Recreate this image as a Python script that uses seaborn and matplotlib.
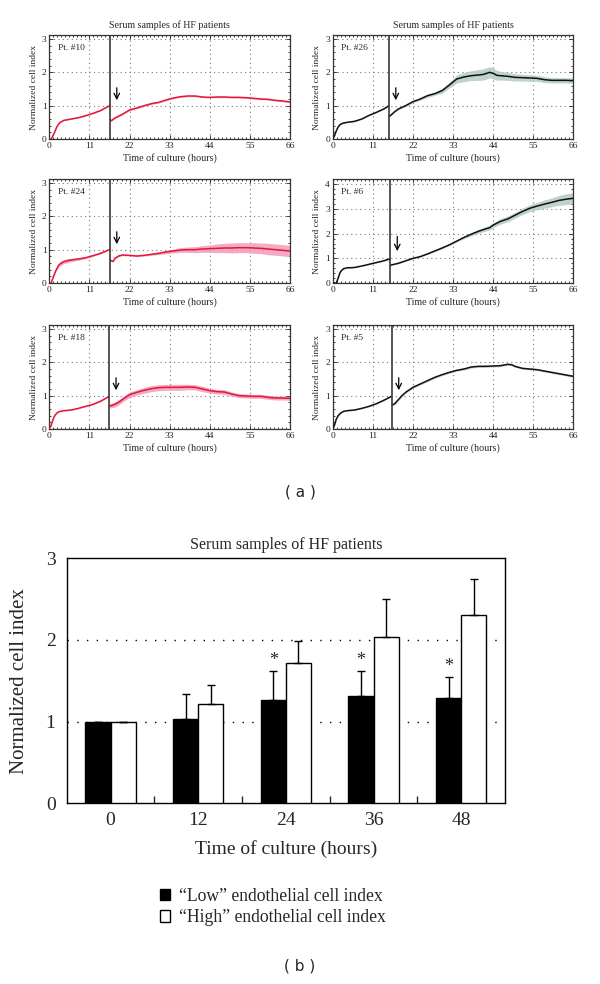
import numpy as np
import pandas as pd
import matplotlib
matplotlib.use("Agg")
import matplotlib.pyplot as plt
import seaborn as sns
from matplotlib.ticker import MultipleLocator, FixedLocator
from matplotlib.patches import Patch

# ---------------- data: panel (a) ----------------
p10_t_pre = [0, 0.5, 1, 1.5, 2, 2.5, 3, 4, 5, 6, 8, 10, 12, 14, 16.5]
p10_y_pre = [0, 0, 0.1, 0.22, 0.35, 0.44, 0.5, 0.56, 0.58, 0.6, 0.64, 0.7, 0.77, 0.85, 1.0]
p10_e_pre = [0, 0, 0.01, 0.01, 0.01, 0.01, 0.01, 0.01, 0.01, 0.01, 0.01, 0.01, 0.01, 0.01, 0.01]
p10_t_post = [16.6, 17, 18, 20, 22, 24, 26, 28, 30, 32, 34, 36, 38, 40, 42, 44, 46, 48, 50, 52, 54, 56, 58, 60, 62, 64, 66]
p10_y_post = [0.58, 0.55, 0.63, 0.74, 0.87, 0.93, 1.0, 1.06, 1.1, 1.17, 1.23, 1.27, 1.29, 1.29, 1.26, 1.25, 1.26, 1.26, 1.25, 1.25, 1.24, 1.22, 1.2, 1.19, 1.16, 1.14, 1.11]
p10_e_post = [0.02] * 27

p26_t_pre = [0, 0.5, 1, 1.5, 2, 2.5, 3, 4, 6, 8, 10, 12, 14, 15.3]
p26_y_pre = [0, 0.1, 0.25, 0.36, 0.43, 0.46, 0.48, 0.5, 0.53, 0.6, 0.71, 0.8, 0.9, 0.99]
p26_e_pre = [0, 0.01, 0.01, 0.01, 0.01, 0.01, 0.01, 0.01, 0.01, 0.01, 0.01, 0.01, 0.01, 0.01]
p26_t_post = [15.5, 16, 17, 18, 20, 22, 24, 26, 28, 30, 32, 34, 36, 38, 40, 41, 42, 43, 44, 45, 46, 48, 50, 52, 54, 56, 58, 60, 62, 64, 66]
p26_y_post = [0.68, 0.72, 0.82, 0.9, 1.0, 1.12, 1.2, 1.3, 1.36, 1.45, 1.62, 1.8, 1.86, 1.9, 1.92, 1.93, 1.96, 2.0, 1.97, 1.91, 1.9, 1.88, 1.85, 1.84, 1.83, 1.82, 1.78, 1.76, 1.76, 1.76, 1.75]
p26_e_post = [0.02, 0.02, 0.02, 0.02, 0.03, 0.03, 0.04, 0.05, 0.05, 0.07, 0.09, 0.12, 0.14, 0.15, 0.16, 0.17, 0.17, 0.17, 0.17, 0.15, 0.13, 0.12, 0.11, 0.1, 0.1, 0.09, 0.09, 0.08, 0.08, 0.08, 0.08]

p24_t_pre = [0, 0.5, 1, 1.5, 2, 2.5, 3, 4, 5, 6, 8, 10, 12, 14, 16.5]
p24_y_pre = [0, 0, 0.15, 0.3, 0.42, 0.52, 0.58, 0.64, 0.67, 0.69, 0.72, 0.76, 0.82, 0.89, 1.0]
p24_e_pre = [0, 0, 0.02, 0.03, 0.04, 0.05, 0.06, 0.06, 0.06, 0.05, 0.04, 0.03, 0.02, 0.02, 0.01]
p24_t_post = [16.7, 17, 17.5, 18, 19, 20, 22, 24, 26, 28, 30, 32, 34, 36, 38, 40, 42, 44, 46, 48, 50, 52, 54, 56, 58, 60, 62, 64, 66]
p24_y_post = [0.7, 0.66, 0.65, 0.74, 0.81, 0.84, 0.83, 0.81, 0.83, 0.86, 0.89, 0.93, 0.96, 0.99, 1.0, 1.0, 1.02, 1.03, 1.04, 1.05, 1.05, 1.06, 1.06, 1.05, 1.04, 1.02, 1.0, 0.98, 0.96]
p24_e_post = [0.02, 0.02, 0.02, 0.02, 0.02, 0.02, 0.02, 0.02, 0.02, 0.03, 0.04, 0.05, 0.06, 0.07, 0.08, 0.09, 0.1, 0.11, 0.13, 0.14, 0.15, 0.15, 0.15, 0.16, 0.16, 0.17, 0.17, 0.17, 0.17]

p6_t_pre = [0, 1, 1.5, 2, 2.5, 3, 4, 5, 6, 8, 10, 12, 14, 15.7]
p6_y_pre = [0, 0, 0.2, 0.42, 0.52, 0.58, 0.62, 0.62, 0.63, 0.69, 0.76, 0.83, 0.9, 0.98]
p6_e_pre = [0, 0, 0.01, 0.01, 0.01, 0.01, 0.01, 0.01, 0.01, 0.01, 0.01, 0.01, 0.01, 0.01]
p6_t_post = [15.9, 16, 18, 20, 22, 24, 26, 28, 30, 32, 34, 36, 38, 40, 42, 43, 44, 46, 48, 50, 52, 54, 56, 58, 60, 62, 64, 66]
p6_y_post = [0.72, 0.73, 0.8, 0.9, 1.0, 1.07, 1.18, 1.3, 1.42, 1.55, 1.7, 1.85, 1.98, 2.1, 2.2, 2.24, 2.35, 2.5, 2.6, 2.75, 2.9, 3.03, 3.12, 3.2, 3.27, 3.35, 3.4, 3.44]
p6_e_post = [0.02, 0.02, 0.02, 0.02, 0.02, 0.02, 0.02, 0.03, 0.03, 0.03, 0.04, 0.05, 0.07, 0.08, 0.09, 0.1, 0.1, 0.11, 0.12, 0.12, 0.13, 0.14, 0.15, 0.17, 0.18, 0.2, 0.22, 0.22]

p18_t_pre = [0, 0.5, 1, 1.5, 2, 2.5, 3, 4, 6, 8, 10, 12, 14, 16.3]
p18_y_pre = [0, 0.1, 0.28, 0.4, 0.47, 0.51, 0.53, 0.55, 0.57, 0.62, 0.68, 0.74, 0.83, 0.97]
p18_e_pre = [0, 0.01, 0.01, 0.01, 0.01, 0.01, 0.01, 0.01, 0.01, 0.01, 0.01, 0.01, 0.01, 0.01]
p18_t_post = [16.5, 17, 18, 19, 20, 22, 24, 26, 28, 30, 32, 34, 36, 38, 40, 42, 44, 46, 48, 50, 52, 54, 56, 58, 60, 62, 64, 66]
p18_y_post = [0.7, 0.7, 0.74, 0.8, 0.88, 1.03, 1.1, 1.16, 1.21, 1.24, 1.25, 1.25, 1.25, 1.26, 1.25, 1.2, 1.15, 1.12, 1.11, 1.05, 1.0, 0.99, 0.98, 0.98, 0.95, 0.93, 0.93, 0.92]
p18_e_post = [0.06, 0.07, 0.08, 0.08, 0.08, 0.08, 0.08, 0.09, 0.09, 0.09, 0.09, 0.09, 0.09, 0.08, 0.08, 0.08, 0.07, 0.07, 0.07, 0.06, 0.06, 0.06, 0.06, 0.06, 0.06, 0.06, 0.06, 0.06]

p5_t_pre = [0, 0.5, 1, 1.5, 2, 2.5, 3, 4, 6, 8, 10, 12, 14, 16.1]
p5_y_pre = [0, 0.12, 0.3, 0.4, 0.46, 0.5, 0.53, 0.55, 0.57, 0.62, 0.68, 0.76, 0.86, 0.98]
p5_e_pre = [0, 0.01, 0.01, 0.01, 0.01, 0.01, 0.01, 0.01, 0.01, 0.01, 0.01, 0.01, 0.01, 0.01]
p5_t_post = [16.3, 17, 18, 19, 20, 22, 24, 26, 28, 30, 32, 34, 36, 38, 40, 42, 44, 46, 48, 49, 50, 52, 54, 56, 58, 60, 62, 64, 66]
p5_y_post = [0.72, 0.76, 0.88, 1.0, 1.1, 1.25, 1.35, 1.45, 1.55, 1.63, 1.7, 1.76, 1.8, 1.86, 1.88, 1.88, 1.89, 1.9, 1.94, 1.93, 1.88, 1.82, 1.8, 1.78, 1.74, 1.7, 1.66, 1.62, 1.58]
p5_e_post = [0.03] * 29

patient_labels = ["Pt. #10", "Pt. #26", "Pt. #24", "Pt. #6", "Pt. #18", "Pt. #5"]
break_times = [16.6, 15.4, 16.6, 15.8, 16.4, 16.2]
panel_ylims = [3.12, 3.12, 3.12, 4.22, 3.12, 3.12]
arrow_from = [1.62, 1.62, 1.62, 2.0, 1.62, 1.62]
arrow_to = [1.08, 1.08, 1.08, 1.18, 1.08, 1.08]
x_ticks_a = [0, 11, 22, 33, 44, 55, 66]

# ---------------- data: panel (b) ----------------
bar_times = ["0", "12", "24", "36", "48"]
low_mean = [1.0, 1.03, 1.27, 1.32, 1.29]
low_err = [0.0, 0.31, 0.35, 0.30, 0.26]
high_mean = [1.0, 1.21, 1.72, 2.04, 2.30]
high_err = [0.0, 0.24, 0.27, 0.46, 0.45]
sig_marks = ["", "", "*", "*", "*"]
group_labels = ["\u201cLow\u201d endothelial cell index", "\u201cHigh\u201d endothelial cell index"]

# ---------------- style ----------------
sns.set_theme(style="white")
plt.rcParams["font.family"] = ["Liberation Serif", "DejaVu Serif"]

RED = "#e3173a"
RED_BAND = "#f39bb8"
BLK = "#111111"
BLK_BAND = "#b3ccc4"

W, H = 600, 984
fig = plt.figure(figsize=(W / 100, H / 100), dpi=100)


def fax(left, top, width, height):
    return fig.add_axes([left / W, 1 - (top + height) / H, width / W, height / H])


patients = [
    (p10_t_pre, p10_y_pre, p10_e_pre, p10_t_post, p10_y_post, p10_e_post, RED, RED_BAND),
    (p26_t_pre, p26_y_pre, p26_e_pre, p26_t_post, p26_y_post, p26_e_post, BLK, BLK_BAND),
    (p24_t_pre, p24_y_pre, p24_e_pre, p24_t_post, p24_y_post, p24_e_post, RED, RED_BAND),
    (p6_t_pre, p6_y_pre, p6_e_pre, p6_t_post, p6_y_post, p6_e_post, BLK, BLK_BAND),
    (p18_t_pre, p18_y_pre, p18_e_pre, p18_t_post, p18_y_post, p18_e_post, RED, RED_BAND),
    (p5_t_pre, p5_y_pre, p5_e_pre, p5_t_post, p5_y_post, p5_e_post, BLK, BLK_BAND),
]

lefts = [49.3, 332.7]
tops = [35, 179, 325]
pw, ph = 240.7, 104

for i, (tp, yp, ep, tq, yq, eq, col, band) in enumerate(patients):
    r, c = divmod(i, 2)
    ax = fax(lefts[c], tops[r], pw, ph)
    for tt, yy, ee in ((tp, yp, ep), (tq, yq, eq)):
        tt = np.asarray(tt); yy = np.asarray(yy); ee = np.asarray(ee)
        ax.fill_between(tt, yy - ee, yy + ee, color=band, lw=0, alpha=0.85, zorder=2)
        sns.lineplot(x=tt, y=yy, ax=ax, color=col, lw=1.1, estimator=None, sort=False, zorder=3)
    ylim = panel_ylims[i]
    ax.axvline(break_times[i], color="#3a3a3a", lw=1.2, zorder=4)
    ax.annotate("", xy=(break_times[i] + 1.9, arrow_to[i]),
                xytext=(break_times[i] + 1.9, arrow_from[i]),
                arrowprops=dict(arrowstyle="->", lw=0.9, color="black", mutation_scale=10))
    ax.set_xlim(0, 66)
    ax.set_ylim(0, ylim)
    ax.set_xticks(x_ticks_a)
    ax.xaxis.set_minor_locator(MultipleLocator(1.1))
    ax.yaxis.set_major_locator(MultipleLocator(1))
    ax.yaxis.set_minor_locator(MultipleLocator(0.2))
    ax.grid(True, which="major", color="#777777", ls=(0, (1, 3)), lw=0.8)
    ax.tick_params(which="both", direction="in", top=True, right=True, bottom=True, left=True,
                   labelsize=6.8, pad=2, colors="#222222", width=0.6)
    ax.tick_params(which="major", length=3)
    ax.tick_params(which="minor", length=1.6)
    for s in ax.spines.values():
        s.set_color("#333333"); s.set_linewidth(0.9); s.set_visible(True)
    ax.set_xlabel("Time of culture (hours)", fontsize=7.2, labelpad=2)
    ax.set_ylabel("Normalized cell index", fontsize=6.8, labelpad=3)
    ax.text(0.035, 0.875, patient_labels[i], transform=ax.transAxes, fontsize=6.8,
            va="center", ha="left")
    if r == 0:
        ax.set_title("Serum samples of HF patients", fontsize=7.2, pad=5)

fig.text(300 / W, 1 - 492 / H, "( a )", family=["DejaVu Sans"], fontsize=11,
         ha="center", va="center")

# ---------------- panel (b) ----------------
axb = fax(66.7, 558.3, 438.3, 245)
df = pd.DataFrame({
    "time": bar_times * 2,
    "value": low_mean + high_mean,
    "group": [group_labels[0]] * 5 + [group_labels[1]] * 5,
})
sns.barplot(data=df, x="time", y="value", hue="group", ax=axb,
            palette=["black", "white"], edgecolor="black", linewidth=1.0,
            width=0.575, gap=0, errorbar=None, legend=False, zorder=3)
for k, (cont, errs) in enumerate(zip(axb.containers, (low_err, high_err))):
    xs = [b.get_x() + b.get_width() / 2 for b in cont]
    hs = [b.get_height() for b in cont]
    axb.errorbar(xs, hs, yerr=[np.zeros(len(errs)), errs], fmt="none", ecolor="black",
                 elinewidth=1.0, capsize=3, capthick=1.0, zorder=4)
    if k == 0:
        for x, h, e, s in zip(xs, hs, errs, sig_marks):
            if s:
                axb.text(x, h + e + 0.02, s, ha="center", va="bottom", fontsize=13)

axb.set_xlim(-0.5, 4.5)
axb.set_ylim(0, 3)
axb.set_yticks([0, 1, 2, 3])
axb.xaxis.set_minor_locator(FixedLocator([0.5, 1.5, 2.5, 3.5]))
axb.tick_params(axis="x", which="major", length=0, labelsize=14, pad=6)
axb.tick_params(axis="x", which="minor", direction="in", length=5, width=1, bottom=True)
axb.tick_params(axis="y", length=0, labelsize=14, pad=8)
for yv in (1, 2):
    axb.axhline(yv, color="black", ls=(0, (1, 6)), lw=1.0, zorder=1)
for s in axb.spines.values():
    s.set_color("black"); s.set_linewidth(1.0); s.set_visible(True)
axb.set_xlabel("Time of culture (hours)", fontsize=14, labelpad=8)
axb.set_ylabel("Normalized cell index", fontsize=15, labelpad=12)
axb.set_title("Serum samples of HF patients", fontsize=11.5, pad=7)

handles = [Patch(facecolor="black", edgecolor="black", lw=1),
           Patch(facecolor="white", edgecolor="black", lw=1)]
fig.legend(handles, group_labels, loc="upper left", bbox_to_anchor=(151 / W, 1 - 879 / H),
           frameon=False, fontsize=12.7, handlelength=0.6, handleheight=0.6,
           handletextpad=0.5, labelspacing=0.25, borderpad=0)

fig.text(300 / W, 1 - 966 / H, "( b )", family=["DejaVu Sans"], fontsize=11,
         ha="center", va="center")

fig.savefig("out.png", dpi=100)
